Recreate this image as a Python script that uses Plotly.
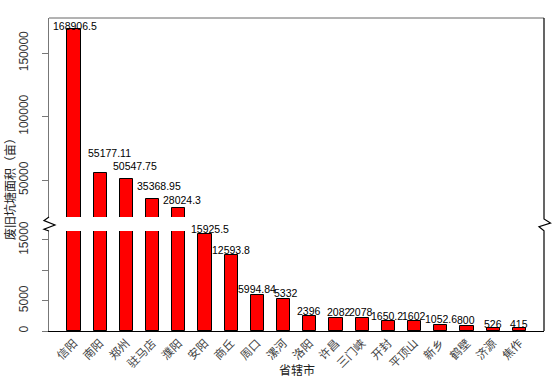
import plotly.graph_objects as go

# ---- data ----
cities = ["信阳", "南阳", "郑州", "驻马店", "濮阳", "安阳", "商丘", "周口", "漯河",
          "洛阳", "许昌", "三门峡", "开封", "平顶山", "新乡", "鹤壁", "济源", "焦作"]
areas = [168906.5, 55177.11, 50547.75, 35368.95, 28024.3, 15925.5, 12593.8, 5994.84, 5332,
         2396, 2082, 2078, 1650.2, 1602, 1052.6, 800, 526, 415]
lower_ticks = [0, 5000, 10000, 15000]
lower_ticktext = ["0", "5000", "", "15000"]
upper_ticks = [50000, 100000, 150000]
upper_ticktext = ["50000", "100000", "150000"]
y_title = "废旧坑塘面积（亩）"
x_title = "省辖市"

# ---- layout constants (pixels) ----
W, H = 558, 382
L, R, T, B = 49, 544, 18, 331
PW, PH = R - L, B - T

def px(x):
    return (x - L) / PW

def py(y):
    return (B - y) / PH

label_dx = [1.5, 9, 8.5, 6, 3.5, 5, 0, 0, 2, -1, 3, -1, -1, -1, 0, -1, 0, 0]
label_dy = [3, 20, 13, 13, 8, 5, 5, 6, 6, 5, 6, 6, 5, 5, 6, 6, 4, 4]

idx = list(range(len(cities)))
lower_top = 16470
upper_bottom = 20900
upper_top = 177600

fig = go.Figure()
for ax in ["y", "y2"]:
    fig.add_trace(go.Bar(
        x=idx, y=areas, width=0.5, yaxis=ax,
        marker=dict(color="#FF0000", line=dict(color="black", width=1)),
        showlegend=False, hoverinfo="skip",
    ))

annotations = []
for i, v in enumerate(areas):
    yref = "y2" if v > lower_top else "y"
    annotations.append(dict(
        x=i, y=v, xref="x", yref=yref, text=f"{v:.10g}", showarrow=False,
        xanchor="center", yanchor="middle", xshift=label_dx[i], yshift=label_dy[i],
        font=dict(family="Liberation Sans, Arial", size=10.5, color="black"),
    ))

annotations.append(dict(
    x=0, y=py(186), xref="paper", yref="paper", text=y_title, textangle=-90,
    showarrow=False, xanchor="center", yanchor="middle", xshift=9 - L,
    font=dict(family="Noto Sans CJK SC", size=12, color="#222"),
))
annotations.append(dict(
    x=0.5, y=py(369), xref="paper", yref="paper", text=x_title,
    showarrow=False, xanchor="center", yanchor="middle",
    font=dict(family="Noto Sans CJK SC", size=12, color="#222"),
))

shapes = [
    dict(type="line", xref="paper", yref="paper", x0=0, x1=1, y0=1, y1=1,
         line=dict(color="#666", width=1)),
    dict(type="path", xref="paper", yref="paper",
         path=(f"M {px(544)},{py(18)} L {px(544)},{py(219)} L {px(550.5)},{py(223)} "
               f"L {px(539)},{py(226.7)} L {px(544)},{py(230.7)} L {px(544)},{py(331)}"),
         line=dict(color="black", width=1.2)),
    dict(type="path", xref="paper", yref="paper",
         path=(f"M {px(49)},{py(217)} L {px(44)},{py(220.5)} L {px(55)},{py(225)} "
               f"L {px(44)},{py(229.3)} L {px(49)},{py(231)}"),
         line=dict(color="black", width=1.2)),
]

tickfont = dict(family="Liberation Sans, Arial", size=12, color="#333")
fig.update_layout(
    width=W, height=H,
    margin=dict(l=L, r=W - R, t=T, b=H - B, autoexpand=False),
    plot_bgcolor="white", paper_bgcolor="white",
    bargap=0,
    xaxis=dict(range=[-0.954, 17.94], tickmode="array", tickvals=idx, ticktext=cities,
               tickangle=-45, showline=True, linecolor="black", linewidth=1.2,
               ticks="", showgrid=False, zeroline=False, anchor="y", automargin=False,
               tickfont=dict(family="Noto Sans CJK SC", size=11.5, color="#444")),
    yaxis=dict(domain=[0, py(231)], range=[0, lower_top], tickmode="array",
               tickvals=lower_ticks, ticktext=lower_ticktext, tickangle=-90,
               showline=True, linecolor="#777", linewidth=1, ticks="outside",
               ticklen=6, tickcolor="#777", showgrid=False, zeroline=False,
               ticklabelstandoff=9,
               tickfont=tickfont, anchor="x", automargin=False),
    yaxis2=dict(domain=[py(217), 1], range=[upper_bottom, upper_top], tickmode="array",
                tickvals=upper_ticks, ticktext=upper_ticktext, tickangle=-90,
                showline=True, linecolor="#777", linewidth=1, ticks="outside",
                ticklen=6, tickcolor="#777", showgrid=False, zeroline=False,
                ticklabelstandoff=9,
                tickfont=tickfont, anchor="x", automargin=False),
    annotations=annotations,
    shapes=shapes,
)

fig.write_html("out.html", config={"displayModeBar": False},
               post_script="document.body.style.margin='0';document.body.style.overflow='hidden';")
